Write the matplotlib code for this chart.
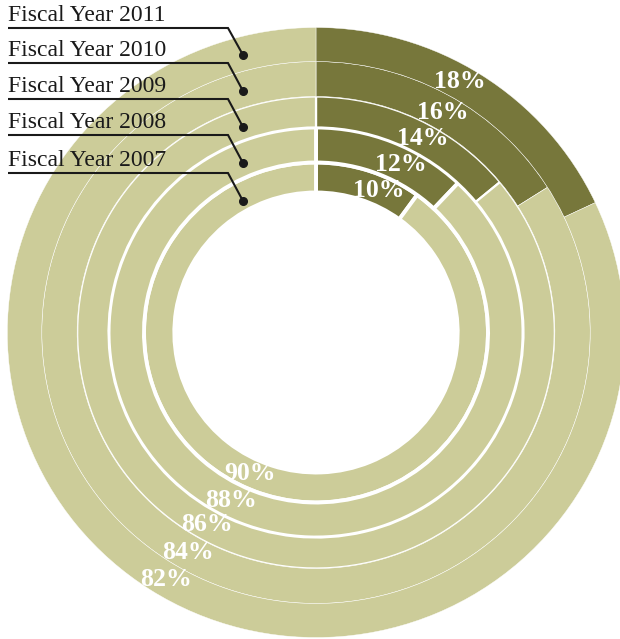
import matplotlib
matplotlib.use('Agg')
import matplotlib.pyplot as plt
import numpy as np

years = ['Fiscal Year 2007', 'Fiscal Year 2008', 'Fiscal Year 2009',
         'Fiscal Year 2010', 'Fiscal Year 2011']
dark_pct = [10, 12, 14, 16, 18]
light_pct = [90, 88, 86, 84, 82]

DARK = '#77773B'
LIGHT = '#CCCC99'
W, H = 620, 639
SX = 1.012  # slight horizontal stretch of the original

plt.rcParams['font.family'] = ['Liberation Serif', 'DejaVu Serif']

fig = plt.figure(figsize=(W / 100, H / 100), dpi=100)
ax = fig.add_axes([0, 0, 1, 1])

CXP, CYP = 316, 332.5
cx, cy = CXP, H - CYP


def px(x):
    return cx + (x - CXP) / SX


outer = [170, 205, 236, 271, 305]
inner = [140, 170, 205, 236, 271]
lws = [2.8, 2.8, 1.6, 0.4, 0.3]

for i in range(len(years)):
    ax.pie([dark_pct[i], light_pct[i]], radius=outer[i], center=(cx, cy),
           startangle=90, counterclock=False, colors=[DARK, LIGHT],
           wedgeprops=dict(width=outer[i] - inner[i], edgecolor='white',
                           linewidth=lws[i]), frame=True)

# percentage labels
dark_ang = [23.4, 26.6, 28.5, 29.7, 29.5]
light_ang = [24.7, 26.7, 29.2, 29.9, 31.0]
for i in range(len(years)):
    rm = (outer[i] + inner[i]) / 2
    t = np.radians(dark_ang[i])
    ax.text(cx + rm * np.sin(t), cy + rm * np.cos(t), f'{dark_pct[i]}%',
            color='white', fontsize=18.5, fontweight='bold', ha='center', va='center')
    p = np.radians(light_ang[i])
    ax.text(cx - rm * np.sin(p), cy - rm * np.cos(p), f'{light_pct[i]}%',
            color='white', fontsize=18.5, fontweight='bold', ha='center', va='center')

# legend callouts
line_y = [173, 135, 99, 63, 28]
dot_y = [201, 163, 127, 91, 55]
for i in range(len(years)):
    ly = H - line_y[i]
    dy = H - dot_y[i]
    ax.plot([px(8), px(228), px(243)], [ly, ly, dy], color='#1a1a1a', lw=1.5,
            solid_capstyle='butt', solid_joinstyle='miter')
    ax.plot([px(243)], [dy], 'o', color='#1a1a1a', ms=5.5)
    ax.text(px(8), ly + 7, years[i], fontsize=17, color='#1a1a1a',
            ha='left', va='baseline')

ax.set_aspect('auto')
ax.set_xlim(cx - CXP / SX, cx + (W - CXP) / SX)
ax.set_ylim(0, H)
ax.axis('off')
fig.savefig('out.png', dpi=100)
